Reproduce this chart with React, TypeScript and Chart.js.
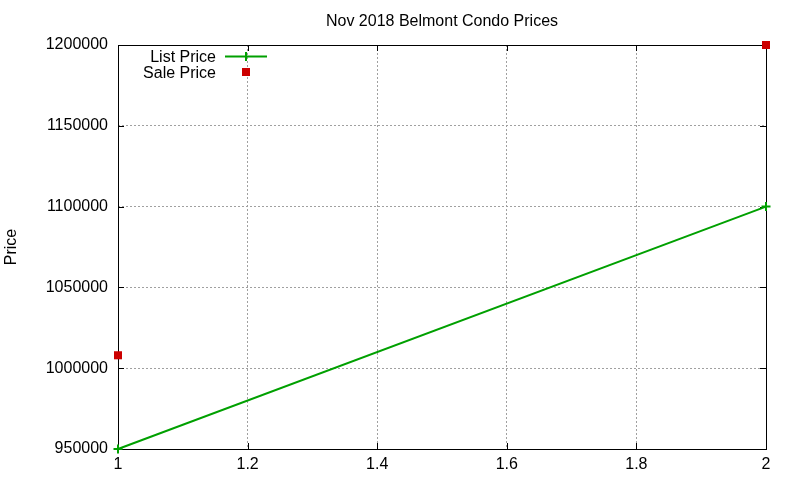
import React, { useEffect, useRef } from 'react';
import { Chart, registerables } from 'chart.js';

Chart.register(...registerables);

const chartTitle = 'Nov 2018 Belmont Condo Prices';
const yAxisTitle = 'Price';

// List price series
const listX = [1, 2];
const listY = [950000, 1100000];

// Sale price series
const saleX = [1, 2];
const saleY = [1008000, 1200000];

const xTicks = [1, 1.2, 1.4, 1.6, 1.8, 2];
const yTicks = [950000, 1000000, 1050000, 1100000, 1150000, 1200000];

const FONT = '"Liberation Sans", Arial, sans-serif';
const GREEN = '#00a000';
const RED = '#cc0000';

// gnuplot-like frame: border box with inward ticks on all four sides
const framePlugin = {
  id: 'frame',
  beforeDatasetsDraw(chart: any) {
    const { ctx, chartArea: a, scales } = chart;
    ctx.save();
    ctx.strokeStyle = '#000';
    ctx.lineWidth = 1;
    ctx.setLineDash([]);
    ctx.beginPath();
    xTicks.forEach(v => {
      const px = Math.round(scales.x.getPixelForValue(v)) + 0.5;
      ctx.moveTo(px, a.bottom);
      ctx.lineTo(px, a.bottom - 6);
      ctx.moveTo(px, a.top);
      ctx.lineTo(px, a.top + 6);
    });
    yTicks.forEach(v => {
      const py = Math.round(scales.y.getPixelForValue(v)) + 0.5;
      ctx.moveTo(a.left, py);
      ctx.lineTo(a.left + 6, py);
      ctx.moveTo(a.right, py);
      ctx.lineTo(a.right - 6, py);
    });
    ctx.stroke();
    ctx.strokeRect(Math.round(a.left) + 0.5, Math.round(a.top) + 0.5, Math.round(a.right - a.left), Math.round(a.bottom - a.top));
    ctx.restore();
  },
  afterDraw(chart: any) {
    const { ctx, chartArea: a } = chart;
    ctx.save();
    ctx.fillStyle = '#000';
    ctx.font = `16px ${FONT}`;
    ctx.textBaseline = 'middle';
    ctx.textAlign = 'center';
    ctx.fillText(chartTitle, (a.left + a.right) / 2, 22);

    // key, top-left inside the plot
    const ds = chart.data.datasets;
    ctx.textAlign = 'right';
    ctx.fillText(ds[0].label, 216, 58);
    ctx.fillText(ds[1].label, 216, 74);
    ctx.strokeStyle = GREEN;
    ctx.lineWidth = 2;
    ctx.beginPath();
    ctx.moveTo(225, 56.5);
    ctx.lineTo(267, 56.5);
    ctx.moveTo(246, 52);
    ctx.lineTo(246, 61);
    ctx.stroke();
    ctx.fillStyle = RED;
    ctx.fillRect(242, 68, 8, 8);
    ctx.restore();
  },
};

export default function App() {
  const canvasRef = useRef<HTMLCanvasElement>(null);
  const chartRef = useRef<Chart | null>(null);

  useEffect(() => {
    document.body.style.margin = '0';
    if (!canvasRef.current) return;
    if (chartRef.current) chartRef.current.destroy();

    chartRef.current = new Chart(canvasRef.current, {
      type: 'scatter',
      data: {
        datasets: [
          {
            label: 'List Price',
            data: listX.map((x, i) => ({ x, y: listY[i] })),
            showLine: true,
            borderColor: GREEN,
            backgroundColor: GREEN,
            borderWidth: 2,
            pointStyle: 'cross',
            pointRadius: 4.5,
            pointBorderWidth: 2,
            clip: false,
          },
          {
            label: 'Sale Price',
            data: saleX.map((x, i) => ({ x, y: saleY[i] })),
            showLine: false,
            borderColor: RED,
            backgroundColor: RED,
            borderWidth: 0,
            pointStyle: 'rect',
            pointRadius: 5.7,
            pointBorderWidth: 0,
            clip: false,
          },
        ],
      },
      options: {
        animation: false,
        responsive: true,
        maintainAspectRatio: false,
        layout: { padding: { top: 45, right: 34, left: 0, bottom: 0 } },
        plugins: {
          legend: { display: false },
          title: { display: false },
          tooltip: { enabled: false },
        },
        scales: {
          x: {
            type: 'linear',
            min: 1,
            max: 2,
            afterBuildTicks: (scale: any) => {
              scale.ticks = xTicks.map(value => ({ value }));
            },
            afterFit: (scale: any) => {
              scale.height = 31;
            },
            grid: { color: '#a0a0a0', lineWidth: 1, drawTicks: false },
            border: { display: false, dash: [2, 2] },
            ticks: {
              color: '#000',
              padding: 6,
              autoSkip: false,
              maxRotation: 0,
              font: { family: FONT, size: 16 },
              callback: (value: any) => String(value),
            },
          },
          y: {
            type: 'linear',
            min: 950000,
            max: 1200000,
            afterBuildTicks: (scale: any) => {
              scale.ticks = yTicks.map(value => ({ value }));
            },
            afterFit: (scale: any) => {
              scale.width = 118;
            },
            grid: { color: '#a0a0a0', lineWidth: 1, drawTicks: false },
            border: { display: false, dash: [2, 2] },
            title: {
              display: true,
              text: yAxisTitle,
              color: '#000',
              font: { family: FONT, size: 16 },
              padding: { top: 2, bottom: 0 },
            },
            ticks: {
              color: '#000',
              padding: 10,
              autoSkip: false,
              font: { family: FONT, size: 16 },
              callback: (value: any) => String(value),
            },
          },
        },
      },
      plugins: [framePlugin],
    });

    return () => {
      if (chartRef.current) {
        chartRef.current.destroy();
        chartRef.current = null;
      }
    };
  }, []);

  return (
    <div style={{ width: 800, height: 480, position: 'relative', background: '#fff' }}>
      <canvas ref={canvasRef} />
    </div>
  );
}
